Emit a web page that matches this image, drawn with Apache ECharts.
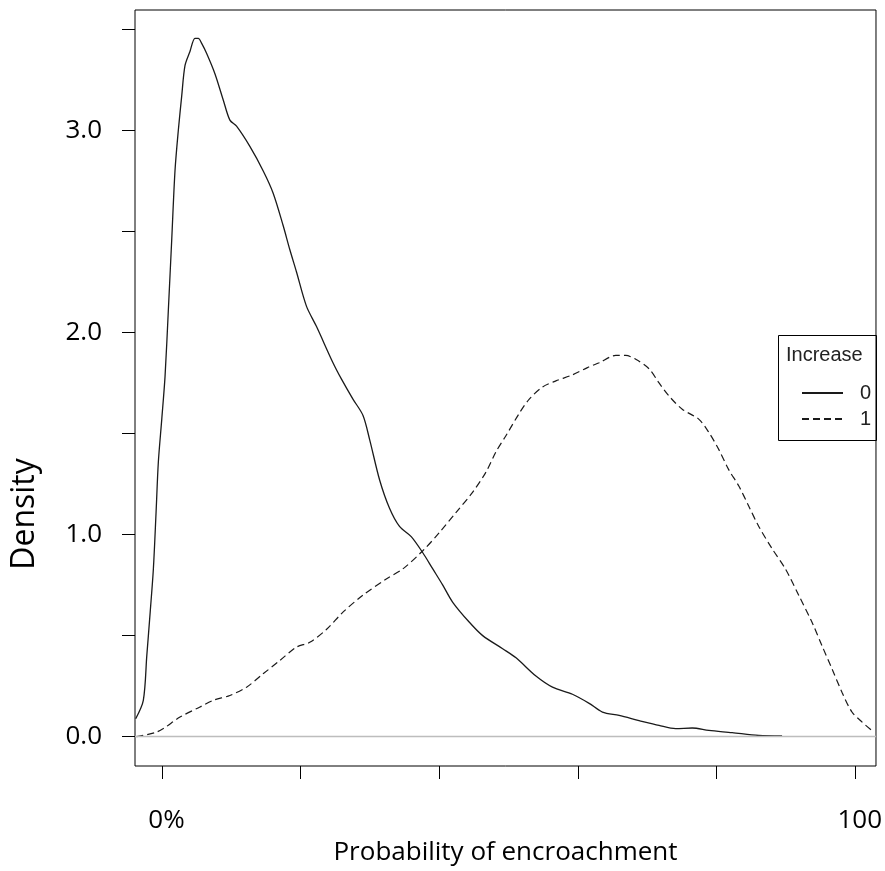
<!DOCTYPE html>
<html>
<head>
<meta charset="utf-8">
<script src="https://cdn.jsdelivr.net/npm/echarts@6/dist/echarts.min.js"></script>
<style>
  html, body { margin: 0; padding: 0; background: #fff; }
  #chart { width: 885px; height: 871px; }
</style>
</head>
<body>
<div id="chart"></div>
<script>
// density of predicted probability, group "0" (solid)
var prob0 = [-0.038, -0.027, -0.022, -0.017, -0.0125, -0.0086, -0.0053, -0.0004, 0.0043, 0.0091,
  0.014, 0.0187, 0.0235, 0.0284, 0.0331, 0.0403, 0.0475, 0.0523, 0.0572, 0.0644,
  0.0763, 0.0883, 0.0979, 0.1075, 0.1267, 0.1458, 0.1602, 0.1746, 0.1843, 0.1939,
  0.2083, 0.2227, 0.2466, 0.2587, 0.2754, 0.2898, 0.2995, 0.3139, 0.3282, 0.3426,
  0.3595, 0.3762, 0.3906, 0.405, 0.4194, 0.4434, 0.4626, 0.4914, 0.5107, 0.5394,
  0.5633, 0.5921, 0.6162, 0.6353, 0.6594, 0.6882, 0.717, 0.741, 0.7649, 0.7889,
  0.8225, 0.8609, 0.8945]
var dens0 = [0.089, 0.18, 0.40, 0.62, 0.83, 1.11, 1.36, 1.57, 1.78, 2.11,
  2.46, 2.80, 3.00, 3.17, 3.32, 3.39, 3.455, 3.455, 3.43, 3.38,
  3.28, 3.15, 3.05, 3.02, 2.92, 2.80, 2.69, 2.53, 2.41, 2.30,
  2.13, 2.03, 1.85, 1.77, 1.67, 1.59, 1.47, 1.27, 1.13, 1.04,
  0.99, 0.91, 0.83, 0.75, 0.665, 0.566, 0.50, 0.435, 0.39, 0.30,
  0.245, 0.21, 0.165, 0.122, 0.105, 0.08, 0.056, 0.04, 0.043, 0.031,
  0.02, 0.006, 0.004]

// group "1" (dashed)
var prob1 = [-0.037, -0.0101, 0.0019, 0.0259, 0.0547, 0.0739, 0.0979, 0.1219, 0.1458, 0.1699,
  0.1939, 0.2131, 0.2371, 0.261, 0.2898, 0.3235, 0.3474, 0.3762, 0.4002, 0.4243,
  0.4482, 0.4675, 0.4819, 0.4963, 0.5154, 0.5298, 0.549, 0.5682, 0.5921, 0.6137,
  0.6306, 0.6546, 0.669, 0.6834, 0.7026, 0.717, 0.7314, 0.7505, 0.7746, 0.7889,
  0.8033, 0.8177, 0.8321, 0.8465, 0.8609, 0.8801, 0.8993, 0.9185, 0.9377, 0.9521,
  0.9665, 0.9809, 0.9953, 1.0097, 1.0265]
var dens1 = [0.0, 0.02, 0.04, 0.097, 0.147, 0.18, 0.204, 0.245, 0.311, 0.377,
  0.443, 0.467, 0.53, 0.616, 0.70, 0.78, 0.83, 0.92, 1.01, 1.11,
  1.21, 1.31, 1.41, 1.49, 1.60, 1.67, 1.73, 1.76, 1.79, 1.826,
  1.85, 1.886, 1.886, 1.867, 1.82, 1.75, 1.685, 1.62, 1.57, 1.505,
  1.42, 1.32, 1.24, 1.14, 1.04, 0.93, 0.83, 0.70, 0.566, 0.45,
  0.336, 0.22, 0.122, 0.073, 0.023]

var groupNames = ['0', '1']
var xTicks = [0, 0.2, 0.4, 0.6, 0.8, 1]
var xLabelValues = [0, 1]
var xTickLabels = ['0%', '100']
var yTicks = [0, 0.5, 1, 1.5, 2, 2.5, 3, 3.5]
var yLabelValues = [0, 1, 2, 3]

function zip(xs, ys) {
  return xs.map(function (x, i) { return [x, ys[i]] })
}

var chart = echarts.init(document.getElementById('chart'), null, { renderer: 'canvas' })
var font = 'Open Sans'

chart.setOption({
  animation: false,
  backgroundColor: '#fff',
  grid: {
    left: 135,
    right: 8,
    top: 10,
    bottom: 104,
    show: true,
    borderColor: '#000',
    borderWidth: 1
  },
  xAxis: {
    type: 'value',
    min: -0.039,
    max: 1.03,
    name: 'Probability of encroachment',
    nameLocation: 'middle',
    nameGap: 74,
    nameTextStyle: { fontFamily: font, fontSize: 26, color: '#000' },
    axisLine: { show: false, onZero: false },
    splitLine: { show: false },
    axisTick: { show: true, customValues: xTicks, length: 13, lineStyle: { color: '#000', width: 1 } },
    axisLabel: {
      customValues: xLabelValues,
      margin: 42,
      fontFamily: font,
      fontSize: 26,
      color: '#000',
      padding: [0, 0, 0, 9],
      formatter: function (v) { return xTickLabels[xLabelValues.indexOf(v)] }
    }
  },
  yAxis: {
    type: 'value',
    min: -0.145,
    max: 3.595,
    axisLine: { show: false, onZero: false },
    splitLine: { show: false },
    axisTick: { show: true, customValues: yTicks, length: 13, lineStyle: { color: '#000', width: 1 } },
    axisLabel: {
      customValues: yLabelValues,
      margin: 33,
      fontFamily: font,
      fontSize: 26,
      color: '#000',
      formatter: function (v) { return v.toFixed(1) }
    }
  },
  legend: {
    orient: 'vertical',
    left: 796,
    top: 378,
    itemWidth: 41,
    itemHeight: 14,
    itemGap: 6,
    itemStyle: { color: 'rgba(0,0,0,0)', borderColor: 'rgba(0,0,0,0)', borderWidth: 0 },
    textStyle: { fontFamily: 'Liberation Sans', fontSize: 20, color: '#222', padding: [0, 0, 0, 12] },
    data: groupNames
  },
  graphic: [
    {
      type: 'rect',
      shape: { x: 778.5, y: 335.5, width: 98, height: 105 },
      style: { fill: 'none', stroke: '#000', lineWidth: 1 }
    },
    {
      type: 'text',
      x: 786,
      y: 355,
      style: { text: 'Increase', font: '20px "Liberation Sans"', fill: '#222', verticalAlign: 'middle' }
    },
    {
      type: 'text',
      x: 25,
      y: 514,
      rotation: Math.PI / 2,
      style: { text: 'Density', font: '32px "Open Sans"', fill: '#000', align: 'center', verticalAlign: 'middle' }
    }
  ],
  series: [
    {
      name: groupNames[0],
      type: 'line',
      data: zip(prob0, dens0),
      smooth: 0.3,
      symbol: 'none',
      lineStyle: { color: '#1a1a1a', width: 1.3, type: 'solid' },
      itemStyle: { color: '#1a1a1a' },
      markLine: {
        silent: true,
        symbol: 'none',
        label: { show: false },
        lineStyle: { color: '#bdbdbd', type: 'solid', width: 1.3 },
        data: [{ yAxis: 0 }]
      },
      z: 3
    },
    {
      name: groupNames[1],
      type: 'line',
      data: zip(prob1, dens1),
      smooth: 0.3,
      symbol: 'none',
      lineStyle: { color: '#1a1a1a', width: 1.2, type: [7, 4] },
      itemStyle: { color: '#1a1a1a' },
      z: 4
    }
  ]
})
</script>
</body>
</html>
